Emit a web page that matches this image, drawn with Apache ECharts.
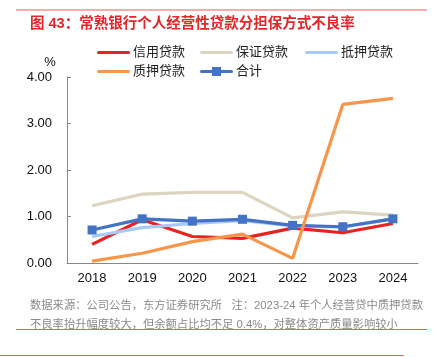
<!DOCTYPE html>
<html>
<head>
<meta charset="utf-8">
<script src="https://cdn.jsdelivr.net/npm/echarts@6/dist/echarts.min.js"></script>
<style>html,body{margin:0;padding:0;background:#fff;}#c{width:439px;height:357px;}</style>
</head>
<body>
<div id="c"></div>
<script>
var categories = ['2018','2019','2020','2021','2022','2023','2024'];
var credit = [0.40, 0.93, 0.57, 0.53, 0.75, 0.65, 0.85];
var guarantee = [1.23, 1.48, 1.52, 1.52, 0.97, 1.10, 1.03];
var mortgage = [0.57, 0.76, 0.85, 0.91, 0.80, 0.77, 0.95];
var pledge = [0.04, 0.21, 0.46, 0.62, 0.10, 3.41, 3.54];
var total = [0.71, 0.95, 0.90, 0.94, 0.81, 0.78, 0.95];
var yTicks = ['0.00','1.00','2.00','3.00','4.00'];

var font = 'Arial, "Liberation Sans", "Noto Sans CJK SC", sans-serif';
var chart = echarts.init(document.getElementById('c'));
var lineIcon = 'path://M1.5,3H31.5A1.5,1.5 0 0 1 31.5,6H1.5A1.5,1.5 0 0 1 1.5,3Z';
var rectLineIcon = 'path://M1.5,3H31.5A1.5,1.5 0 0 1 31.5,6H1.5A1.5,1.5 0 0 1 1.5,3Z M12,0H21V9H12Z';
function leg(name, left, top, icon) {
  return {
    data: [{name: name, icon: icon}],
    left: left, top: top, itemWidth: 33, itemHeight: 9, itemGap: 0,
    padding: 0,
    textStyle: {fontSize: 13, color: '#222', fontFamily: font, padding: [0, 0, 0, -2]},
    selectedMode: false
  };
}
function line(name, data, color, z, sym) {
  return {
    name: name, type: 'line', data: data, z: z,
    symbol: sym || 'none', symbolSize: 9, showSymbol: !!sym,
    lineStyle: {color: color, width: 3.2},
    itemStyle: {color: color},
    emphasis: {disabled: true}, animation: false
  };
}
chart.setOption({
  animation: false,
  title: [{
    text: '图 43：常熟银行个人经营性贷款分担保方式不良率',
    left: 25, top: 12,
    textStyle: {fontSize: 14.5, fontWeight: 'bold', color: '#e3262a', fontFamily: font}
  }, {
    text: '数据来源：公司公告，东方证券研究所   注：2023-24 年个人经营贷中质押贷款\n不良率抬升幅度较大，但余额占比均不足 0.4%，对整体资产质量影响较小',
    left: 25, top: 291,
    textStyle: {fontSize: 11.3, fontWeight: 'normal', color: '#8a8a8a', fontFamily: font, lineHeight: 19}
  }],
  graphic: [
    {type: 'line', shape: {x1: 16, y1: 10, x2: 427, y2: 10}, style: {stroke: '#ee5d57', lineWidth: 1}},
    {type: 'line', shape: {x1: 16, y1: 329.5, x2: 427, y2: 329.5}, style: {stroke: '#ee5d57', lineWidth: 1}},
    {type: 'line', shape: {x1: 0, y1: 355.5, x2: 404, y2: 355.5}, style: {stroke: '#ee5d57', lineWidth: 1}}
  ],
  legend: [
    leg('信用贷款', 97, 46, lineIcon),
    leg('保证贷款', 200, 46, lineIcon),
    leg('抵押贷款', 305, 46, lineIcon),
    leg('质押贷款', 97, 65, lineIcon),
    leg('合计', 200, 65, rectLineIcon)
  ],
  grid: {left: 67, right: 21, top: 77, bottom: 94},
  xAxis: {
    type: 'category', data: categories, boundaryGap: true,
    axisLine: {lineStyle: {color: '#888', width: 1}},
    axisTick: {inside: true, length: 4, lineStyle: {color: '#888'}},
    axisLabel: {fontSize: 13, color: '#111', fontFamily: font, margin: 9}
  },
  yAxis: {
    type: 'value', min: 0, max: 4, interval: 1,
    name: '%', nameLocation: 'end', nameGap: 8,
    nameTextStyle: {fontSize: 13, color: '#111', fontFamily: font, align: 'center', padding: [0, 34, 0, 0]},
    axisLine: {show: true, lineStyle: {color: '#888', width: 1}},
    axisTick: {show: true, inside: true, length: 4, lineStyle: {color: '#888'}},
    splitLine: {show: false},
    axisLabel: {fontSize: 13, color: '#111', fontFamily: font, margin: 15,
      formatter: function (v) { return yTicks[Math.round(v)]; }}
  },
  series: [
    line('信用贷款', credit, '#e8231f', 2),
    line('保证贷款', guarantee, '#ddd5c1', 2),
    line('抵押贷款', mortgage, '#a8c8f8', 3),
    line('质押贷款', pledge, '#f7964a', 5),
    line('合计', total, '#4472c4', 4, 'rect')
  ]
});
</script>
</body>
</html>
